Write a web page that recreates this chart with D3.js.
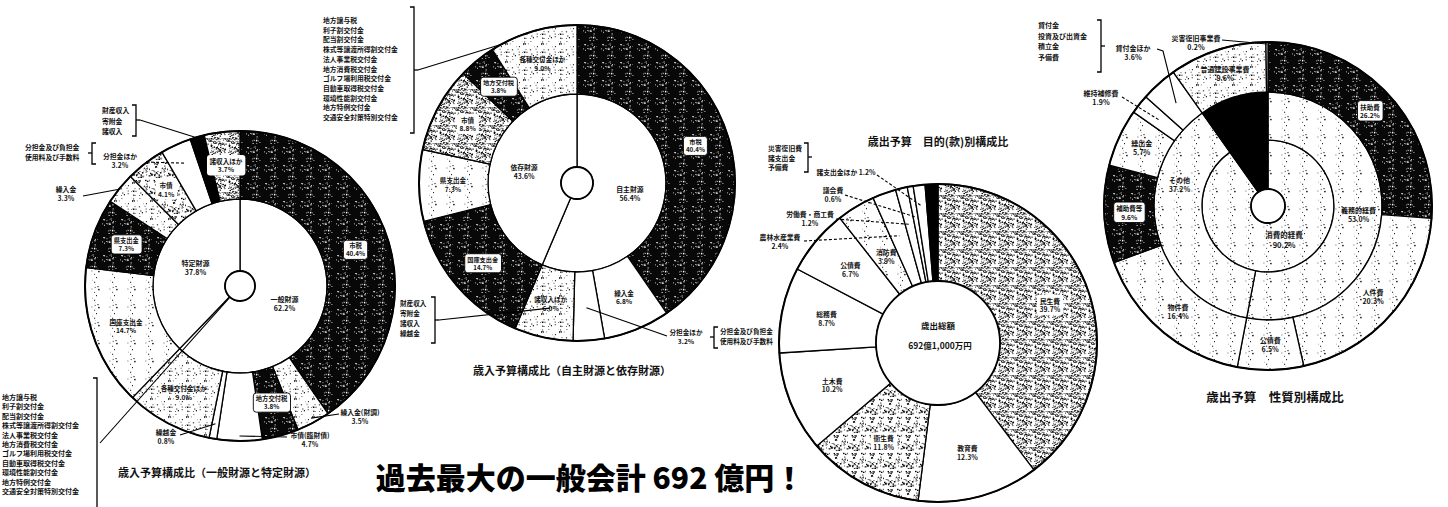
<!DOCTYPE html>
<html><head><meta charset="utf-8">
<script src="https://cdn.jsdelivr.net/npm/d3@7"></script>
<style>
html,body{margin:0;padding:0;background:#fff;}
svg{display:block;}
text{font-family:"Noto Sans CJK JP","Noto Sans",sans-serif;font-weight:700;fill:#111;}
</style></head><body>
<svg id="c" width="1448" height="507"></svg>
<script>
// ================= DATA =================
// Chart 1: 歳入予算構成比（一般財源と特定財源）
const c1InnerLabels = ["一般財源","特定財源"];
const c1InnerValues = [62.2,37.8];
const c1Labels = ["市税","繰入金(財調)","地方交付税","市債(臨財債)","繰越金","各種交付金ほか","国庫支出金","県支出金","繰入金","市債","分担金ほか","財産収入ほか","諸収入ほか"];
const c1Values = [40.4,3.5,3.8,4.7,0.8,9.0,14.7,7.3,3.3,4.1,3.2,1.5,3.7];
// Chart 2: 歳入予算構成比（自主財源と依存財源）
const c2InnerLabels = ["自主財源","依存財源"];
const c2InnerValues = [56.4,43.6];
const c2Labels = ["市税","繰入金","分担金ほか","諸収入ほか","国庫支出金","県支出金","市債","地方交付税","各種交付金ほか"];
const c2Values = [40.4,6.8,3.2,6.0,14.7,7.3,8.8,3.8,9.0];
// Chart 3: 歳出予算 目的(款)別構成比
const c3Labels = ["民生費","教育費","衛生費","土木費","総務費","公債費","消防費","農林水産業費","労働費・商工費","議会費","諸支出金ほか","その他"];
const c3Values = [39.7,12.3,11.8,10.2,8.7,6.7,3.9,2.4,1.2,0.6,1.2,1.3];
const c3Total = "692億1,000万円";
// Chart 4: 歳出予算 性質別構成比
const c4InnerLabels = ["消費的経費","投資的経費"];
const c4InnerValues = [90.2,9.8];
const c4MidLabels = ["義務的経費","その他","投資的経費"];
const c4MidValues = [53.0,37.2,9.8];
const c4OuterLabels = ["扶助費","人件費","公債費","物件費","補助費等","繰出金","維持補修費","貸付金ほか","普通建設事業費","災害復旧事業費"];
const c4OuterValues = [26.2,20.3,6.5,16.4,9.6,5.7,1.9,3.6,9.6,0.2];
// bracket lists
const listKofu = ["地方譲与税","利子割交付金","配当割交付金","株式等譲渡所得割交付金","法人事業税交付金","地方消費税交付金","ゴルフ場利用税交付金","自動車取得税交付金","環境性能割交付金","地方特例交付金","交通安全対策特別交付金"];
const listZaisan1 = ["財産収入","寄附金","諸収入"];
const listZaisan2 = ["財産収入","寄附金","諸収入","繰越金"];
const listBuntan = ["分担金及び負担金","使用料及び手数料"];
const listShoshi = ["災害復旧費","諸支出金","予備費"];
const listKashi = ["貸付金","投資及び出資金","積立金","予備費"];
const titles = ["歳入予算構成比（一般財源と特定財源）","歳入予算構成比（自主財源と依存財源）","歳出予算　目的(款)別構成比","歳出予算　性質別構成比"];
const headline = "過去最大の一般会計 692 億円！";

// ================= STYLES =================
const c1Style = {"市税":"dark","繰入金(財調)":"light","地方交付税":"dark","市債(臨財債)":"white","繰越金":"white","各種交付金ほか":"light","国庫支出金":"faint","県支出金":"dark","繰入金":"light","市債":"midl","分担金ほか":"white","財産収入ほか":"black","諸収入ほか":"mid"};
const c2Style = {"市税":"dark","繰入金":"white","分担金ほか":"white","諸収入ほか":"light","国庫支出金":"dark","県支出金":"faint","市債":"mid","地方交付税":"dark","各種交付金ほか":"light"};
const c3Style = {"民生費":"mid","教育費":"white","衛生費":"midl","土木費":"white","総務費":"white","公債費":"white","消防費":"faint","農林水産業費":"white","労働費・商工費":"white","議会費":"white","諸支出金ほか":"white","その他":"black"};
const c4InStyle = {"消費的経費":"faint","投資的経費":"black"};
const c4MidStyle = {"義務的経費":"faint","その他":"faint","投資的経費":"black"};
const c4OutStyle = {"扶助費":"dark","人件費":"faint","公債費":"faint","物件費":"faint","補助費等":"dark","繰出金":"faint","維持補修費":"white","貸付金ほか":"white","普通建設事業費":"light","災害復旧事業費":"white"};

const svg = d3.select("#c");
const defs = svg.append("defs");
function prng(seed){let s=seed;return ()=>{s=(s*16807)%2147483647;return (s-1)/2147483646;};}
function pat(id,bg,fg,n,r,seed){
  const T=18;
  const p=defs.append("pattern").attr("id",id).attr("patternUnits","userSpaceOnUse").attr("width",T).attr("height",T);
  p.append("rect").attr("width",T).attr("height",T).attr("fill",bg);
  const rnd=prng(seed);
  for(let i=0;i<n;i++){
    p.append("rect").attr("x",rnd()*T).attr("y",rnd()*T)
      .attr("width",r*(0.5+rnd())).attr("height",r*(0.5+rnd())).attr("fill",fg);
  }
}
pat("pDark","#080808","#fff",28,0.95,7);
pat("pMid","#fff","#000",110,1.05,11);
pat("pMidL","#fff","#000",60,1.0,13);
pat("pLight","#fff","#000",26,1.0,17);
pat("pFaint","#fff","#000",9,1.0,19);
const fillMap={dark:"url(#pDark)",mid:"url(#pMid)",midl:"url(#pMidL)",light:"url(#pLight)",faint:"url(#pFaint)",white:"#fff",black:"#000"};
const busy=s=>s==="mid"||s==="midl";

svg.append("rect").attr("width",1448).attr("height",507).attr("fill","#fff");

// ================= HELPERS =================
function ring(cfg){
  const g=svg.append("g").attr("transform",`translate(${cfg.cx},${cfg.cy})`);
  const data=cfg.labels.map((k,i)=>({k,v:cfg.values[i]}));
  const arcs=d3.pie().sort(null).value(d=>d.v)(data);
  const arc=d3.arc().innerRadius(cfg.r0).outerRadius(cfg.r1);
  g.selectAll("path").data(arcs).join("path").attr("d",arc)
    .attr("fill",d=>fillMap[cfg.styles[d.data.k]])
    .attr("stroke","#000").attr("stroke-width",cfg.sw||1.3);
  const byKey={}; arcs.forEach(a=>byKey[a.data.k]=a);
  return {
    byKey,
    mid:k=>(byKey[k].startAngle+byKey[k].endAngle)/2,
    pos:(a,r)=>[cfg.cx+r*Math.sin(a),cfg.cy-r*Math.cos(a)],
    val:k=>byKey[k].data.v
  };
}
function outline(cx,cy,r,w){
  svg.append("circle").attr("cx",cx).attr("cy",cy).attr("r",r)
    .attr("fill","none").attr("stroke","#000").attr("stroke-width",w);
}
function hub(cx,cy,r){
  svg.append("circle").attr("cx",cx).attr("cy",cy).attr("r",r)
    .attr("fill","#fff").attr("stroke","#000").attr("stroke-width",1.8);
}
function multi(parent,x,y,lines,size,anchor,lh){
  lh=lh||1.3; anchor=anchor||"middle";
  const n=lines.length;
  const y0=y-(n-1)*size*lh/2+size*0.36;
  const t=parent.append("text").attr("font-size",size).attr("text-anchor",anchor);
  lines.forEach((l,i)=>t.append("tspan").attr("x",x).attr("y",y0+i*size*lh).text(l));
  return t;
}
function label(x,y,lines,size,anchor,lh){return multi(svg,x,y,lines,size||7,anchor,lh);}
function boxLabel(x,y,lines,size,noStroke){
  const g=svg.append("g");
  const t=multi(g,x,y,lines,size||6.5);
  const bb=t.node().getBBox();
  g.insert("rect","text").attr("x",bb.x-2.5).attr("y",bb.y-1).attr("width",bb.width+5).attr("height",bb.height+2)
    .attr("rx",3).attr("fill","#fff").attr("stroke",noStroke?"none":"#000").attr("stroke-width",0.9);
}
function autoLabel(style,x,y,lines,size){
  if(busy(style)) boxLabel(x,y,lines,size,true); else label(x,y,lines,size);
}
const pct=v=>v.toFixed(1)+"%";
function line(pts,dash){
  svg.append("path").attr("d",d3.line()(pts)).attr("fill","none").attr("stroke","#000")
    .attr("stroke-width",1.1).attr("stroke-dasharray",dash?"3,2":null);
}
function bracket(x,y1,y2,dir,tickY){
  const w=4*dir;
  svg.append("path").attr("d",`M${x-w},${y1} H${x} V${y2} H${x-w}`).attr("fill","none").attr("stroke","#000").attr("stroke-width",1.3);
  if(tickY!=null) svg.append("path").attr("d",`M${x},${tickY} h${4*dir}`).attr("stroke","#000").attr("stroke-width",1.3);
}
function list(x,y,items,size,step){
  items.forEach((s,i)=>svg.append("text").attr("x",x).attr("y",y+i*step).attr("font-size",size).text(s));
}

// ================= CHART 1 =================
{
  const cx=240,cy=286;
  const inner=ring({cx,cy,r0:15,r1:87,labels:c1InnerLabels,values:c1InnerValues,styles:{"一般財源":"white","特定財源":"white"}});
  const R=ring({cx,cy,r0:87,r1:155,labels:c1Labels,values:c1Values,styles:c1Style});
  outline(cx,cy,155,2);
  const ang=Math.atan2(100-cx,-(443-cy));
  line([[100,443],[cx+15*Math.sin(ang),cy-15*Math.cos(ang)]]);
  hub(cx,cy,15);
  c1InnerLabels.forEach((k,i)=>{const p=inner.pos(inner.mid(k),48);label(p[0],p[1],[k,pct(c1InnerValues[i])],7);});
  ["各種交付金ほか","国庫支出金","市債","諸収入ほか"].forEach(k=>{const p=R.pos(R.mid(k),121);autoLabel(c1Style[k],p[0],p[1],[k,pct(R.val(k))],6.6);});
  ["市税","地方交付税","県支出金"].forEach(k=>{const p=R.pos(R.mid(k),121);boxLabel(p[0],p[1],[k,pct(R.val(k))],6.3);});
  const notes=[
    {k:"繰入金(財調)",x:360,y:417,lx:339,ly:414,r:150},
    {k:"市債(臨財債)",x:310,y:440,lx:287,ly:437,r:150},
    {k:"繰越金",x:166,y:437,lx:180,ly:435,r:140},
    {k:"繰入金",x:66,y:194,lx:83,ly:196,r:154},
    {k:"分担金ほか",x:120,y:161,lx:146,ly:162,r:135,dash:true}
  ];
  notes.forEach(n=>{label(n.x,n.y,[n.k,pct(R.val(n.k))],6.8);line([[n.lx,n.ly],R.pos(R.mid(n.k),n.r)],n.dash);});
  list(102,113,listZaisan1,6.8,10.5);
  bracket(136,105,136,1,120);
  line([[140,120],R.pos(R.mid("財産収入ほか"),154)]);
  list(25,150,listBuntan,6.8,10);
  bracket(92,143,164,-1,153);
  list(2,400,listKofu,7,9.4);
  bracket(97,378,512,1,null);
  label(217,473,[titles[0]],11);
}

// ================= CHART 2 =================
{
  const cx=577,cy=183;
  const inner=ring({cx,cy,r0:16,r1:89,labels:c2InnerLabels,values:c2InnerValues,styles:{"自主財源":"white","依存財源":"white"}});
  const R=ring({cx,cy,r0:89,r1:158,labels:c2Labels,values:c2Values,styles:c2Style});
  outline(cx,cy,158,2);
  hub(cx,cy,16);
  c2InnerLabels.forEach((k,i)=>{const p=inner.pos(inner.mid(k),54);label(p[0],p[1],[k,pct(c2InnerValues[i])],6.8);});
  ["繰入金","諸収入ほか","県支出金","市債","各種交付金ほか"].forEach(k=>{const p=R.pos(R.mid(k),124);autoLabel(c2Style[k],p[0],p[1],[k,pct(R.val(k))],6.6);});
  ["市税","国庫支出金","地方交付税"].forEach(k=>{const p=R.pos(R.mid(k),124);boxLabel(p[0],p[1],[k,pct(R.val(k))],6.2);});
  label(686,337,["分担金ほか",pct(R.val("分担金ほか"))],6.6);
  line([[667,336],R.pos(R.mid("分担金ほか"),125)]);
  bracket(714,327,348,-1,337);
  list(720,334,listBuntan,6.6,10);
  list(400,306,listZaisan2,6.6,10);
  bracket(435,297,343,1,320);
  line([[439,320],R.pos(R.mid("諸収入ほか"),128)]);
  list(323,23,listKofu,6.8,9.7);
  bracket(414,7,133,1,70);
  const kb=R.byKey["各種交付金ほか"];
  line([[418,70],R.pos(kb.startAngle+0.12*(kb.endAngle-kb.startAngle),158)]);
  label(572,371,[titles[1]],11);
}

// ================= CHART 3 =================
{
  const cx=938,cy=343;
  const R=ring({cx,cy,r0:62,r1:159,labels:c3Labels,values:c3Values,styles:c3Style});
  outline(cx,cy,159,2);
  svg.append("circle").attr("cx",cx).attr("cy",cy).attr("r",62).attr("fill","#fff").attr("stroke","#000").attr("stroke-width",1.8);
  label(cx,cy-17,["歳出総額"],8.5);
  label(cx+2,cy+3,[c3Total],8.5);
  ["民生費","教育費","衛生費","土木費","総務費","公債費","消防費"].forEach(k=>{
    const p=R.pos(R.mid(k),k==="民生費"?118:(k==="消防費"?100:114));
    autoLabel(c3Style[k],p[0],p[1],[k,pct(R.val(k))],6.8);});
  const notes=[
    {k:"農林水産業費",x:780,y:242,lx:804,ly:241,r:114},
    {k:"労働費・商工費",x:810,y:219,lx:836,ly:219,r:122},
    {k:"議会費",x:833,y:195,lx:845,ly:195,r:128},
  ];
  notes.forEach(n=>{label(n.x,n.y,[n.k,pct(R.val(n.k))],6.8);line([[n.lx,n.ly],R.pos(R.mid(n.k),n.r)],true);});
  label(846,173,["諸支出金ほか "+pct(R.val("諸支出金ほか"))],6.8);
  line([[877,175],R.pos(R.mid("諸支出金ほか"),138)],true);
  list(768,151,listShoshi,6.8,9.6);
  bracket(808,143,172,1,157);
  label(938,142,[titles[2]],11);
}

// ================= CHART 4 =================
{
  const cx=1268,cy=206;
  const I=ring({cx,cy,r0:17,r1:66,labels:c4InnerLabels,values:c4InnerValues,styles:c4InStyle});
  const M=ring({cx,cy,r0:66,r1:114,labels:c4MidLabels,values:c4MidValues,styles:c4MidStyle});
  const O=ring({cx,cy,r0:114,r1:164,labels:c4OuterLabels,values:c4OuterValues,styles:c4OutStyle});
  outline(cx,cy,164,2);
  hub(cx,cy,17);
  {const p=I.pos(I.mid("消費的経費"),40);label(p[0]+4,p[1]-4,["消費的経費",pct(c4InnerValues[0])],7.5);}
  ["義務的経費","その他"].forEach(k=>{const p=M.pos(M.mid(k)+(k==="その他"?0.45:0),91);label(p[0],p[1],[k,pct(M.val(k))],7);});
  ["人件費","公債費","物件費","繰出金","普通建設事業費"].forEach(k=>{const p=O.pos(O.mid(k),139);label(p[0],p[1],[k,pct(O.val(k))],7);});
  ["扶助費","補助費等"].forEach(k=>{const p=O.pos(O.mid(k),139);boxLabel(p[0],p[1],[k,pct(O.val(k))],6.5);});
  label(1101,98,["維持補修費",pct(O.val("維持補修費"))],7);
  line([[1122,97],O.pos(O.mid("維持補修費"),138)],true);
  label(1133,53,["貸付金ほか",pct(O.val("貸付金ほか"))],7);
  line([[1157,49],[1163,51],O.pos(O.mid("貸付金ほか"),138)]);
  label(1196,43,["災害復旧事業費",pct(O.val("災害復旧事業費"))],7);
  line([[1222,40],O.pos(O.mid("災害復旧事業費"),162)]);
  list(1038,28,listKashi,7,10.5);
  bracket(1101,20,72,1,46);
  label(1275,397,[titles[3]],12.5);
}

// headline
svg.append("text").attr("x",590).attr("y",489).attr("text-anchor","middle").attr("font-size",30)
  .style("font-weight",900).style("fill","#000").text(headline);
</script>
</body></html>
